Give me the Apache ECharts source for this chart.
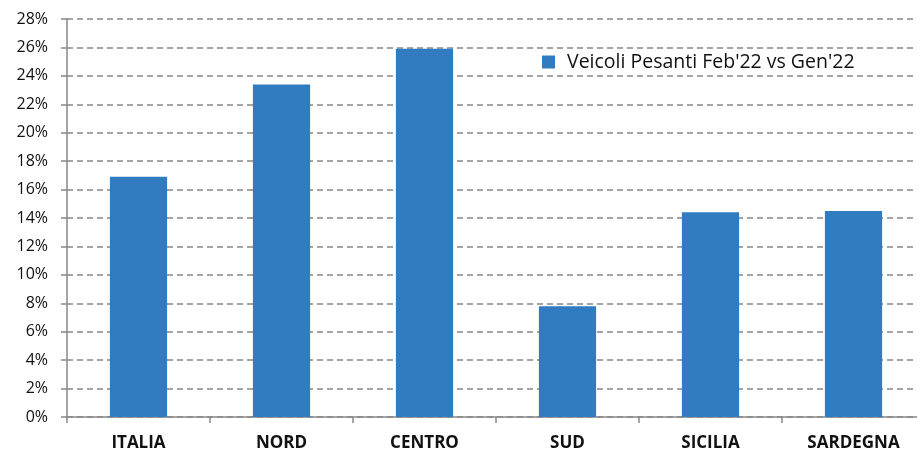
<!DOCTYPE html>
<html><head><meta charset="utf-8">
<script src="https://cdn.jsdelivr.net/npm/echarts@6/dist/echarts.min.js"></script>
<style>html,body{margin:0;padding:0;background:#fff;overflow:hidden}#c{width:930px;height:454px}</style>
</head><body><div id="c"></div>
<script>
const categories = ['ITALIA','NORD','CENTRO','SUD','SICILIA','SARDEGNA'];
const values = [16.9, 23.4, 25.9, 7.8, 14.4, 14.5];
const seriesName = "Veicoli Pesanti Feb'22 vs Gen'22";
const chart = echarts.init(document.getElementById('c'));
chart.setOption({
  animation:false,
  textStyle:{fontFamily:'Open Sans'},
  legend:{left:542,top:52,padding:0,icon:'rect',itemWidth:13,itemHeight:13,
    textStyle:{fontSize:19.5,lineHeight:20,color:'#111',fontFamily:'Open Sans',padding:[0,0,0,7]},data:[seriesName]},
  grid:{left:67,top:19,width:858,bottom:37,containLabel:false},
  xAxis:{type:'category',data:categories,
    axisLine:{lineStyle:{color:'#888',width:1.5}},
    axisTick:{show:true,length:6,lineStyle:{color:'#888',width:1.5}},
    axisLabel:{fontWeight:'bold',fontSize:17,color:'#111',margin:18}},
  yAxis:{type:'value',min:0,max:28,interval:2,
    axisLine:{show:true,lineStyle:{color:'#888',width:1.5}},
    axisTick:{show:true,length:6,lineStyle:{color:'#888',width:1.5}},
    splitLine:{lineStyle:{color:'#888',width:1.5,type:[6,4]}},
    axisLabel:{formatter:'{value}%',fontSize:16,color:'#111',margin:19}},
  series:[{name:seriesName,type:'bar',data:values,barWidth:'40%',
    itemStyle:{color:'#317cc1'}}]
});
</script></body></html>
